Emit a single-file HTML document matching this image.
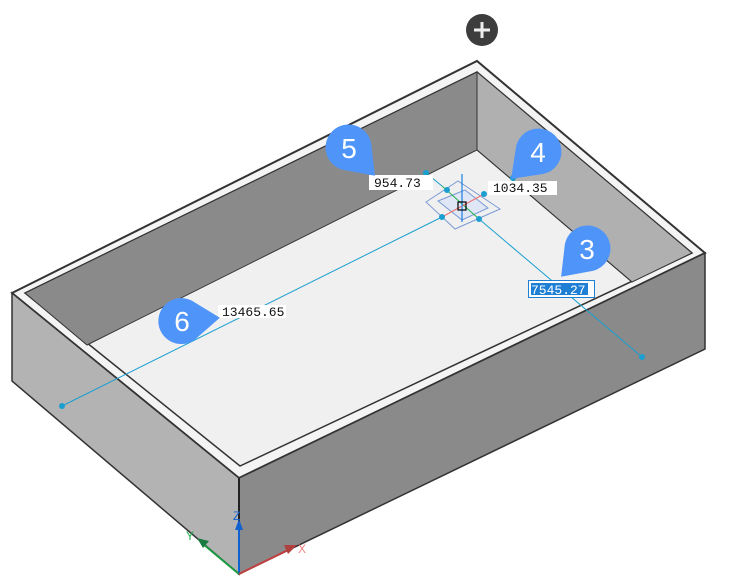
<!DOCTYPE html>
<html><head><meta charset="utf-8"><style>
html,body{margin:0;padding:0;background:#fff;}
svg{display:block;}
text{font-family:"Liberation Sans",sans-serif;}
.m{font-family:"Liberation Mono",monospace;font-size:13px;fill:#111;}
</style></head><body>
<svg width="735" height="587" viewBox="0 0 735 587" xmlns="http://www.w3.org/2000/svg">
<defs>
<path id="drop" d="M38,0 L11.5,19.5 A23,23 0 1,1 11.5,-19.5 Z" fill="#4f94f8"/>
</defs>
<polygon points="12,293 477,61 705,253 239,478" fill="#f4f4f4" stroke="#333" stroke-width="2"/>
<polygon points="25,293 477,72 692,253 240,466" fill="#f0f0f0" stroke="#333" stroke-width="1.5"/>
<polygon points="25,293 477,72 477,150 87,345" fill="#8a8a8a" stroke="#333" stroke-width="1"/>
<polygon points="477,72 692,253 632,282 477,150" fill="#b0b0b0" stroke="#333" stroke-width="1"/>
<line x1="477" y1="150" x2="632" y2="282" stroke="#333" stroke-width="1"/>
<polygon points="12,293 239,478 239,574 12,381" fill="#b3b3b3" stroke="#333" stroke-width="1.5"/>
<polygon points="239,478 705,253 705,349 239,574" fill="#8a8a8a" stroke="#333" stroke-width="1.5"/>
<line x1="239" y1="478" x2="239" y2="574" stroke="#222" stroke-width="2"/>

<circle cx="482" cy="30" r="16" fill="#3d3d3d"/>
<path d="M474,30 H490 M482,22 V38" stroke="#eee" stroke-width="3"/>

<g stroke="#1a9fd0" stroke-width="1" fill="none">
<line x1="62" y1="406" x2="442" y2="217"/>
<line x1="479" y1="219" x2="642" y2="357"/>
<line x1="426" y1="173" x2="442" y2="186"/>
</g>
<polygon points="426,202 458,181 500,209 455,229" fill="none" stroke="#7b9bd6" stroke-width="1"/>
<polygon points="438,201 465,190 488,208 462,220" fill="#dfe6f5" stroke="#7b9bd6" stroke-width="1"/>
<line x1="442" y1="186" x2="479" y2="219" stroke="#22b04a" stroke-width="1"/>
<line x1="442" y1="217" x2="484" y2="194" stroke="#f07070" stroke-width="1"/>
<line x1="462" y1="174" x2="462" y2="222" stroke="#1a7fe0" stroke-width="1.2"/>
<rect x="458" y="202" width="8" height="8" fill="none" stroke="#000" stroke-width="1.2"/>
<g fill="#1a9fd0">
<circle cx="426" cy="173" r="3"/><circle cx="447" cy="190" r="3"/><circle cx="484" cy="194" r="3"/>
<circle cx="442" cy="217" r="3"/><circle cx="479" cy="219" r="3"/><circle cx="62" cy="406" r="3"/>
<circle cx="642" cy="357" r="3"/><circle cx="513" cy="178" r="3"/>
</g>

<rect x="369" y="175" width="64" height="15" fill="#fff"/><text class="m" x="374" y="187">954.73</text>
<rect x="488" y="181" width="69" height="14" fill="#fff"/><text class="m" x="493" y="192">1034.35</text>
<rect x="218" y="305" width="68" height="13" fill="#fff"/><text class="m" x="222" y="316">13465.65</text>
<rect x="528.5" y="280.5" width="66" height="17" fill="#fff" stroke="#1e7fd4"/>
<rect x="531" y="283" width="57" height="12" fill="#1e7fd4"/>
<text class="m" x="531" y="294" style="fill:#fff">7545.27</text>

<g transform="translate(349,148) rotate(47)"><use href="#drop"/></g>
<g transform="translate(538,152) rotate(135)"><use href="#drop"/></g>
<g transform="translate(587,249) rotate(133)"><use href="#drop"/></g>
<g transform="translate(182,321) rotate(-5)"><use href="#drop"/></g>
<g fill="#fff" font-size="28" text-anchor="middle">
<text x="349" y="158">5</text><text x="538" y="162">4</text>
<text x="587" y="259">3</text><text x="182" y="331">6</text>
</g>

<line x1="239" y1="574" x2="239" y2="528" stroke="#1060d0" stroke-width="2"/>
<polygon points="235,530 239,519 243,530" fill="#1060d0"/>
<text x="233" y="520" font-size="12" fill="#1060d0">Z</text>
<line x1="239" y1="574" x2="203" y2="544" stroke="#1a9a40" stroke-width="2"/>
<polygon points="197,538 209,541 203,548" fill="#1a7a40"/>
<text x="186" y="540" font-size="12" fill="#22b04a">Y</text>
<line x1="239" y1="574" x2="288" y2="550" stroke="#c04040" stroke-width="2"/>
<polygon points="297,545 284,545 288,554" fill="#b04040"/>
<text x="298" y="553" font-size="12" fill="#f08080">X</text>
</svg>
</body></html>
